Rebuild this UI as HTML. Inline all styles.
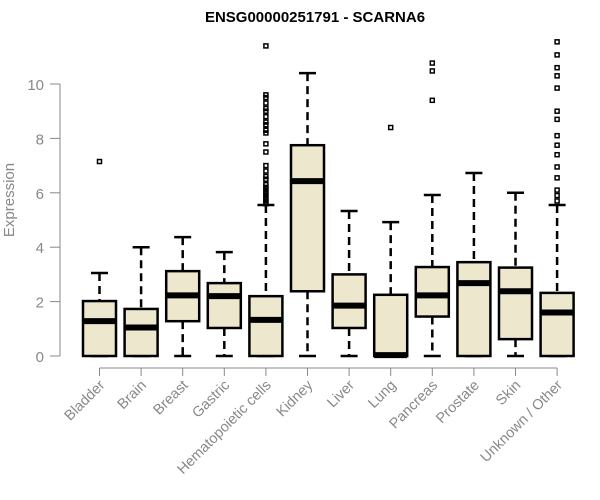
<!DOCTYPE html>
<html><head><meta charset="utf-8"><style>
body{margin:0;background:#fff}
svg{display:block;font-family:"Liberation Sans",sans-serif}
</style></head><body>
<svg id="chart" width="600" height="500">
<text x="315" y="22" text-anchor="middle" font-weight="bold" font-size="15">ENSG00000251791 - SCARNA6</text>
<text transform="translate(14,200) rotate(-90)" text-anchor="middle" font-size="15" fill="#888">Expression</text>
<g id="yaxis"></g>
<g id="xaxis"></g>
<g id="boxes"></g>
</svg>
<script>
const categories=["Bladder","Brain","Breast","Gastric","Hematopoietic cells","Kidney","Liver","Lung","Pancreas","Prostate","Skin","Unknown / Other"];
const lowWhisker=[0,0,0,0,0,0,0,0,0,0,0,0];
const q1=[0,0,1.28,1.03,0,2.38,1.03,0,1.45,0,0.62,0];
const medians=[1.28,1.05,2.23,2.2,1.33,6.43,1.85,0.03,2.23,2.68,2.38,1.6];
const q3=[2.02,1.73,3.12,2.68,2.2,7.75,3.0,2.25,3.27,3.45,3.25,2.32];
const highWhisker=[3.05,4.0,4.37,3.82,5.55,10.4,5.33,4.92,5.92,6.73,6.0,5.55];
const outliers=[[7.15],[],[],[],[11.4,9.6,9.5,9.3,9.1,9.0,8.8,8.6,8.5,8.3,8.2,7.8,7.5,7.0,6.8,6.6,6.5,6.3,6.2,6.1,6.0,5.9,5.8,5.7,5.6],[],[],[8.4],[10.77,10.48,9.4],[],[],[11.55,11.07,10.6,10.3,9.85,9.0,8.7,8.1,7.75,7.4,6.95,6.55,6.1,5.9,5.7]];
const yTicks=[0,2,4,6,8,10];
const NS="http://www.w3.org/2000/svg";
const y=v=>356-v*27.2;
const x=i=>99.5+i*41.6;
function mk(tag,attrs,parent){const e=document.createElementNS(NS,tag);for(const k in attrs)e.setAttribute(k,attrs[k]);parent.appendChild(e);return e;}
const ya=document.getElementById('yaxis'),xa=document.getElementById('xaxis'),bx=document.getElementById('boxes');
mk('line',{x1:60,x2:60,y1:y(10),y2:y(0),stroke:'#888','stroke-width':1},ya);
yTicks.forEach(t=>{
 mk('line',{x1:50,x2:60,y1:y(t),y2:y(t),stroke:'#888'},ya);
 const tx=mk('text',{x:44,y:y(t)+6,'text-anchor':'end','font-size':15,fill:'#888'},ya);
 tx.textContent=t;
 
 
});
mk('line',{x1:x(0),x2:x(categories.length-1),y1:368,y2:368,stroke:'#888'},xa);
categories.forEach((c,i)=>{
 mk('line',{x1:x(i),x2:x(i),y1:368,y2:376,stroke:'#888'},xa);
 const tx=mk('text',{transform:`translate(${x(i)+6},${386}) rotate(-45)`,'text-anchor':'end','font-size':14.5,fill:'#888'},xa);
 tx.textContent=c;
 
 
 const g=mk('g',{},bx);
 
 
 const cx=x(i),w=16.5;
 mk('line',{x1:cx,x2:cx,y1:y(highWhisker[i]),y2:y(q3[i]),stroke:'#000','stroke-width':2.5,'stroke-dasharray':'8,5'},g);
 mk('line',{x1:cx,x2:cx,y1:y(q1[i]),y2:y(lowWhisker[i]),stroke:'#000','stroke-width':2.5,'stroke-dasharray':'8,5'},g);
 mk('line',{x1:cx-8.5,x2:cx+8.5,y1:y(highWhisker[i]),y2:y(highWhisker[i]),stroke:'#000','stroke-width':2.5},g);
 mk('line',{x1:cx-8.5,x2:cx+8.5,y1:y(lowWhisker[i]),y2:y(lowWhisker[i]),stroke:'#000','stroke-width':2.5},g);
 mk('rect',{x:cx-w,y:y(q3[i]),width:2*w,height:y(q1[i])-y(q3[i]),fill:'#ede7cd',stroke:'#000','stroke-width':2.5},g);
 mk('line',{x1:cx-w,x2:cx+w,y1:y(medians[i]),y2:y(medians[i]),stroke:'#000','stroke-width':6},g);
 outliers[i].forEach(o=>{
  mk('rect',{x:cx-2,y:y(o)-2,width:4,height:4,fill:'none',stroke:'#000','stroke-width':1.5},g);
 });
});
</script>
</body></html>
